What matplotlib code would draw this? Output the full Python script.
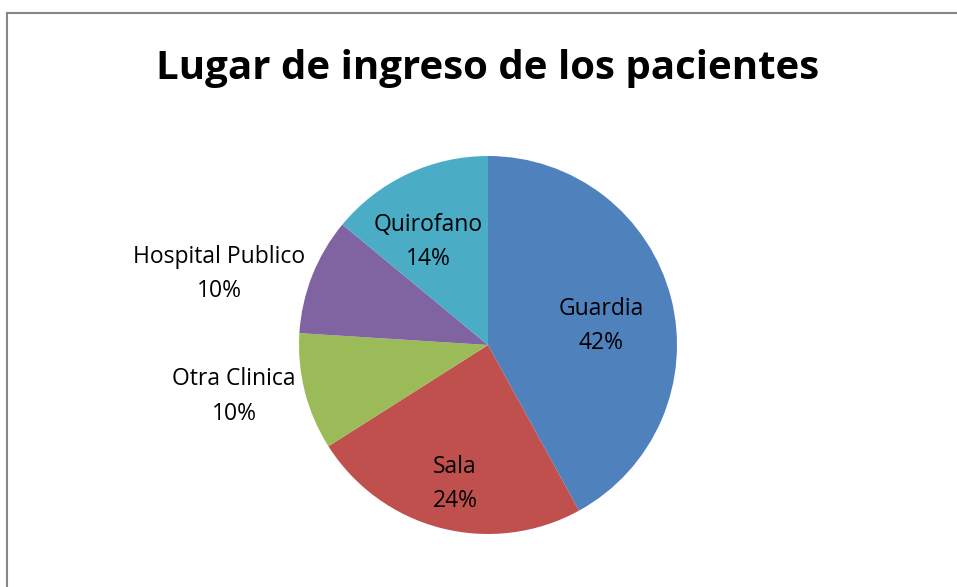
import numpy as np
import matplotlib
matplotlib.use("Agg")
import matplotlib.pyplot as plt
from matplotlib.lines import Line2D

categories = ["Guardia", "Sala", "Otra Clinica", "Hospital Publico", "Quirofano"]
values = [42, 24, 10, 10, 14]
colors = ["#4F81BD", "#C0504D", "#9BBB59", "#8064A2", "#4BACC6"]
label_dist = [0.606, 0.756, 1.371, 1.472, 0.631]
label_shift = [-4.9, 1.0, -3.0, 6.8, 5.0]  # degrees

W, H = 957, 587
fig = plt.figure(figsize=(W / 100, H / 100), dpi=100)
fig.patch.set_facecolor("white")

# border (top and left only visible)
fig.add_artist(Line2D([7.5 / W, 1.0], [1 - 12.5 / H, 1 - 12.5 / H], color="#868686", lw=1.5,
                      transform=fig.transFigure))
fig.add_artist(Line2D([7.5 / W, 7.5 / W], [0, 1 - 12.5 / H], color="#868686", lw=1.5,
                      transform=fig.transFigure))

cx, cy, r = 488, 345, 189
ax = fig.add_axes([(cx - r) / W, (H - cy - r) / H, 2 * r / W, 2 * r / H])
wedges, _ = ax.pie(values, colors=colors, startangle=90, counterclock=False,
                   wedgeprops=dict(linewidth=0))
ax.set_xlim(-1, 1)
ax.set_ylim(-1, 1)
ax.set_aspect("auto")

font = "Open Sans"
for w, cat, v, d, s in zip(wedges, categories, values, label_dist, label_shift):
    ang = np.deg2rad((w.theta1 + w.theta2) / 2 + s)
    x, y = d * np.cos(ang), d * np.sin(ang)
    ax.text(x, y, f"{cat}\n{v}%", ha="center", va="center", fontsize=16.5,
            family=font, linespacing=1.6, color="black", clip_on=False)

fig.text(488 / W, 1 - 68 / H, "Lugar de ingreso de los pacientes", ha="center", va="center",
         fontsize=29, fontweight="bold", family=font)

fig.savefig("out.png", dpi=100)
